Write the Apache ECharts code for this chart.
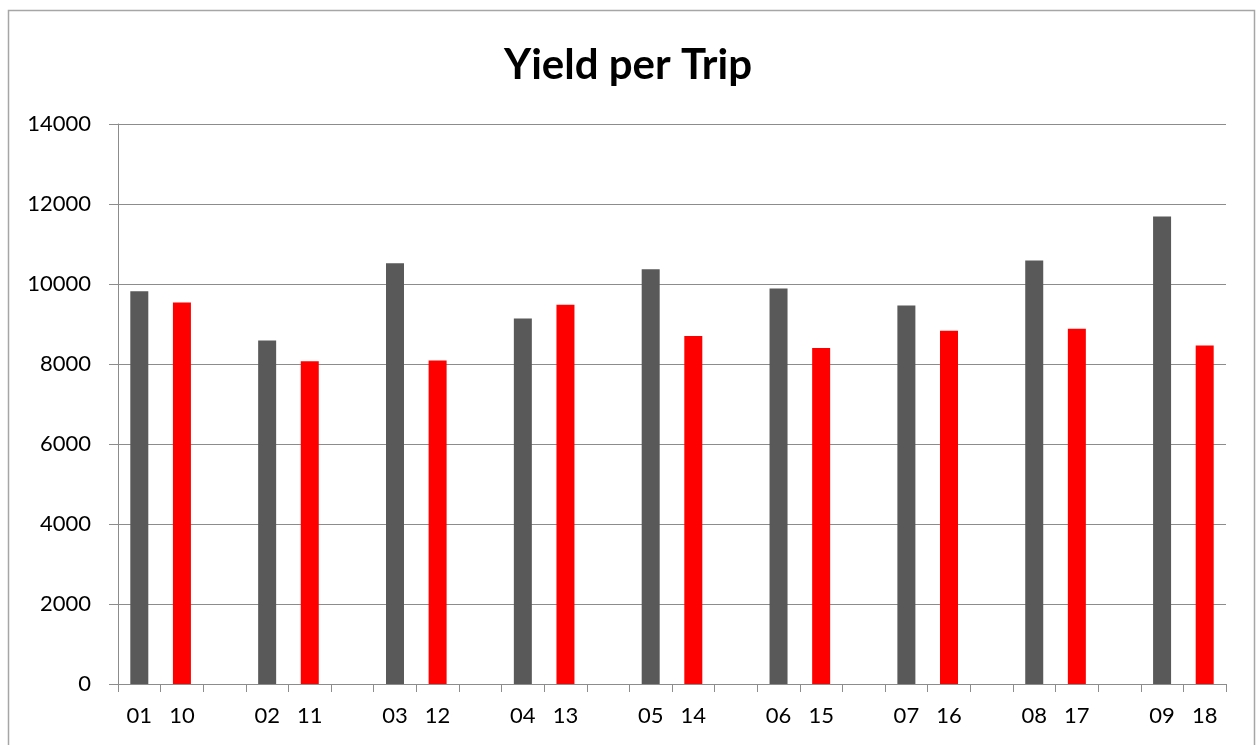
<!DOCTYPE html>
<html>
<head>
<meta charset="utf-8">
<script src="https://cdn.jsdelivr.net/npm/echarts@6/dist/echarts.min.js"></script>
<style>
html,body{margin:0;padding:0;background:#fff;}
#chart{width:1256px;height:745px;}
</style>
</head>
<body>
<div id="chart"></div>
<script>
var firstLabels = ['01','02','03','04','05','06','07','08','09'];
var secondLabels = ['10','11','12','13','14','15','16','17','18'];
var firstValues = [9820, 8590, 10520, 9140, 10370, 9890, 9460, 10590, 11690];
var secondValues = [9540, 8070, 8090, 9480, 8700, 8400, 8830, 8880, 8460];
var yTicks = [0, 2000, 4000, 6000, 8000, 10000, 12000, 14000];

var categories = [], grayData = [], redData = [];
for (var i = 0; i < firstLabels.length; i++) {
  categories.push(firstLabels[i]); grayData.push(firstValues[i]); redData.push(null);
  categories.push(secondLabels[i]); grayData.push(null); redData.push(secondValues[i]);
  if (i < firstLabels.length - 1) { categories.push(''); grayData.push(null); redData.push(null); }
}

var chart = echarts.init(document.getElementById('chart'));
var font = 'Lato, "Open Sans", sans-serif';
chart.setOption({
  animation: false,
  title: {
    text: 'Yield per Trip',
    left: 'center', top: 39,
    textStyle: { fontFamily: font, fontWeight: 'bold', fontSize: 42, color: '#000' }
  },
  graphic: [{
    type: 'rect', shape: { x: 8.5, y: 10.5, width: 1246, height: 740 },
    style: { fill: 'none', stroke: '#a6a6a6', lineWidth: 1.5 }, silent: true
  }],
  grid: { left: 118, right: 30, top: 124, bottom: 61 },
  xAxis: {
    type: 'category', data: categories,
    axisLine: { lineStyle: { color: '#8c8c8c', width: 1 } },
    axisTick: { show: true, length: 8, interval: 0, lineStyle: { color: '#8c8c8c' } },
    axisLabel: { interval: 0, margin: 21, fontFamily: font, fontSize: 22, color: '#000' }
  },
  yAxis: {
    type: 'value', min: yTicks[0], max: yTicks[yTicks.length - 1], interval: 2000,
    axisLine: { show: true, lineStyle: { color: '#8c8c8c', width: 1 } },
    axisTick: { show: true, length: 9, lineStyle: { color: '#8c8c8c' } },
    axisLabel: { margin: 27, fontFamily: font, fontSize: 22, color: '#000',
      formatter: function (v) { return String(v); } },
    splitLine: { lineStyle: { color: '#8c8c8c', width: 1 } }
  },
  series: [
    { type: 'bar', data: grayData, barWidth: 18, barGap: '-100%', itemStyle: { color: '#595959' } },
    { type: 'bar', data: redData, barWidth: 18, itemStyle: { color: '#ff0000' } }
  ]
});
</script>
</body>
</html>
